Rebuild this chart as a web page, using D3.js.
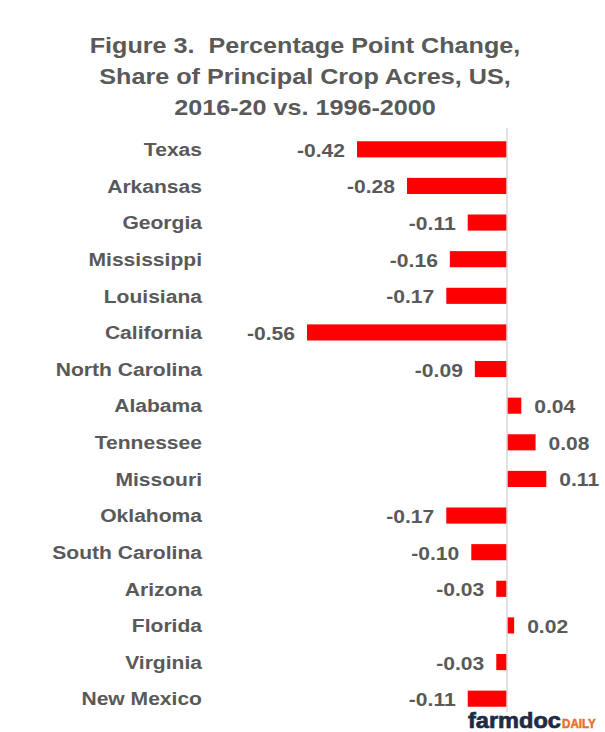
<!DOCTYPE html>
<html>
<head>
<meta charset="utf-8">
<script src="https://cdnjs.cloudflare.com/ajax/libs/d3/7.8.5/d3.min.js"></script>
<style>
  body { margin: 0; background: #fff; }
  svg { display: block; }
  svg text { font-family: "Liberation Sans", Arial, sans-serif; white-space: pre; }
</style>
</head>
<body>
<div id="graphWrapper"></div>
<script>
var states = ["Texas", "Arkansas", "Georgia", "Mississippi", "Louisiana", "California",
    "North Carolina", "Alabama", "Tennessee", "Missouri", "Oklahoma", "South Carolina",
    "Arizona", "Florida", "Virginia", "New Mexico"];
var changes = [-0.42, -0.28, -0.11, -0.16, -0.17, -0.56, -0.09, 0.04, 0.08, 0.11,
    -0.17, -0.10, -0.03, 0.02, -0.03, -0.11];
var titleLines = ["Figure 3.  Percentage Point Change,", "Share of Principal Crop Acres, US,",
    "2016-20 vs. 1996-2000"];

var w = 605, h = 732;
var textColor = "#595959";
var stretch = 1.17; // the original text is a bit wider than Arial

var svg = d3.select("#graphWrapper").append("svg")
    .attr("width", w)
    .attr("height", h);

var data = states.map(function(s, i){ return {state: s, value: changes[i]}; });

var x = d3.scaleLinear()
    .domain([-0.56, 0])
    .range([307, 507]);

var y = d3.scaleBand()
    .domain(states)
    .range([131, 717])
    .paddingInner(0.56)
    .paddingOuter(0.28);

function widen(sel, k){
    k = k || stretch;
    sel.each(function(){
        var len = this.getComputedTextLength();
        d3.select(this)
            .attr("textLength", len * k)
            .attr("lengthAdjust", "spacingAndGlyphs");
    });
}

// title
svg.append("g").selectAll("text")
    .data(titleLines)
    .enter().append("text")
    .attr("x", 305)
    .attr("y", function(d, i){ return 53 + i * 31; })
    .attr("text-anchor", "middle")
    .style("font-size", "21.5px")
    .style("font-weight", "bold")
    .style("fill", textColor)
    .text(function(d){ return d; })
    .call(widen);

// category labels
var yAxis = d3.axisLeft(y).tickSize(0).tickPadding(0);
var yg = svg.append("g")
    .attr("transform", "translate(202,1)")
    .call(yAxis);
yg.attr("font-family", null);
yg.select(".domain").remove();
yg.selectAll("text")
    .style("font-size", "18px")
    .style("font-weight", "bold")
    .style("fill", textColor)
    .call(widen);

// bars
svg.append("g").selectAll("rect")
    .data(data)
    .enter().append("rect")
    .attr("x", function(d){ return x(Math.min(0, d.value)); })
    .attr("y", function(d){ return y(d.state); })
    .attr("width", function(d){ return Math.abs(x(d.value) - x(0)); })
    .attr("height", y.bandwidth())
    .attr("fill", "#ff0000");

// zero line
svg.append("line")
    .attr("x1", x(0)).attr("x2", x(0))
    .attr("y1", 128).attr("y2", 712)
    .attr("stroke", "#d9d9d9")
    .attr("stroke-width", 1.5);

// value labels
var fmt = d3.format(".2f");
svg.append("g").selectAll("text")
    .data(data)
    .enter().append("text")
    .attr("x", function(d){ return d.value < 0 ? x(d.value) - 12 : x(d.value) + 13; })
    .attr("y", function(d){ return y(d.state) + y.bandwidth() / 2 + 1; })
    .attr("dy", "0.36em")
    .attr("text-anchor", function(d){ return d.value < 0 ? "end" : "start"; })
    .style("font-size", "18px")
    .style("font-weight", "bold")
    .style("fill", textColor)
    .text(function(d){ return fmt(d.value).replace("\u2212", "-"); })
    .call(widen);

// logo
svg.append("text")
    .attr("x", 468)
    .attr("y", 728)
    .style("font-weight", "bold")
    .style("font-size", "22px")
    .style("fill", "#1f2a44")
    .style("stroke", "#1f2a44")
    .style("stroke-width", "0.7px")
    .text("farmdoc")
    .call(widen, 1.07);
svg.append("text")
    .attr("x", 562)
    .attr("y", 728)
    .style("font-weight", "bold")
    .style("font-size", "12.5px")
    .style("fill", "#e8702a")
    .style("stroke", "#e8702a")
    .style("stroke-width", "0.5px")
    .text("DAILY")
    .call(widen, 0.93);
</script>
</body>
</html>
